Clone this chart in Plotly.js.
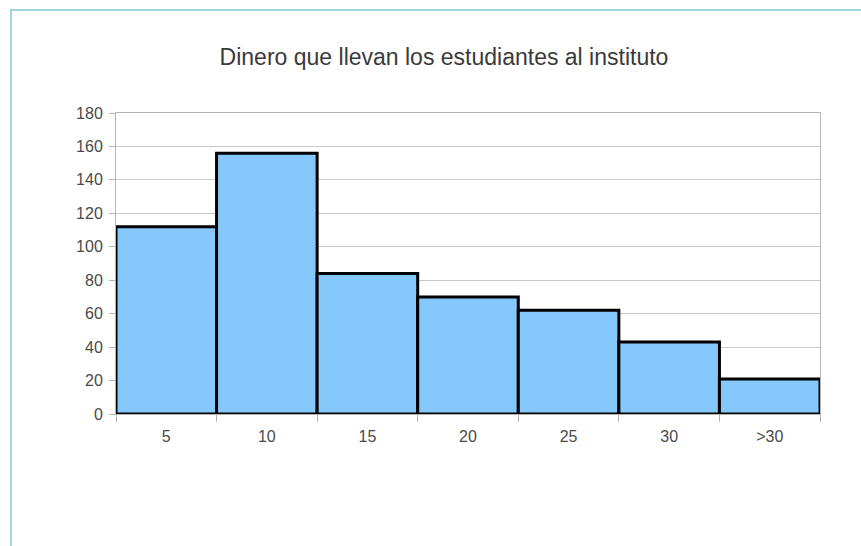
<!DOCTYPE html>
<html>
<head>
<meta charset="utf-8">
<script src="https://cdn.plot.ly/plotly-3.0.1.min.js"></script>
<style>
html,body{margin:0;padding:0;background:#fff;}
#frame{position:absolute;left:10px;top:9px;width:851px;height:537px;border-left:2px solid #9ed3df;border-top:2px solid #9ed3df;box-sizing:border-box;}
#chart{position:absolute;left:0;top:0;width:861px;height:546px;}
</style>
</head>
<body>
<div id="frame"></div>
<div id="chart"></div>
<script>
const categories = ["5", "10", "15", "20", "25", "30", ">30"];
const values = [112, 156, 84, 70, 62, 43, 21];
const yTicks = [0, 20, 40, 60, 80, 100, 120, 140, 160, 180];
const chartTitle = "Dinero que llevan los estudiantes al instituto";

const trace = {
  type: "bar",
  x: categories,
  y: values,
  marker: {color: "#84c8fc", line: {color: "#000000", width: 3}},
  hoverinfo: "x+y"
};

const layout = {
  width: 861,
  height: 546,
  paper_bgcolor: "rgba(0,0,0,0)",
  plot_bgcolor: "#ffffff",
  margin: {l: 116, r: 41, t: 113, b: 132, pad: 0},
  bargap: 0,
  showlegend: false,
  font: {family: "Liberation Sans, Arial, sans-serif", color: "#4a4a4a", size: 16},
  title: {
    text: chartTitle,
    font: {family: "Liberation Sans, Arial, sans-serif", size: 23, color: "#3a3a3a"},
    x: 444/861, xanchor: "center", xref: "container",
    y: 1 - 57/546, yanchor: "middle", yref: "container"
  },
  xaxis: {
    type: "category",
    tickson: "boundaries",
    ticks: "outside",
    ticklen: 7,
    tickcolor: "#b3b3b3",
    ticklabelstandoff: 8,
    showgrid: false,
    showline: true,
    linecolor: "#b3b3b3",
    mirror: true,
    tickfont: {size: 16, color: "#4a4a4a"}
  },
  yaxis: {
    range: [0, 180],
    tickvals: yTicks,
    ticks: "outside",
    ticklen: 6,
    tickcolor: "#b3b3b3",
    ticklabelstandoff: 3,
    showgrid: true,
    gridcolor: "#c8c8c8",
    gridwidth: 1,
    showline: true,
    linecolor: "#b3b3b3",
    mirror: true,
    zeroline: false,
    tickfont: {size: 16, color: "#4a4a4a"}
  }
};

Plotly.newPlot("chart", [trace], layout, {displayModeBar: false, staticPlot: true});
</script>
</body>
</html>
